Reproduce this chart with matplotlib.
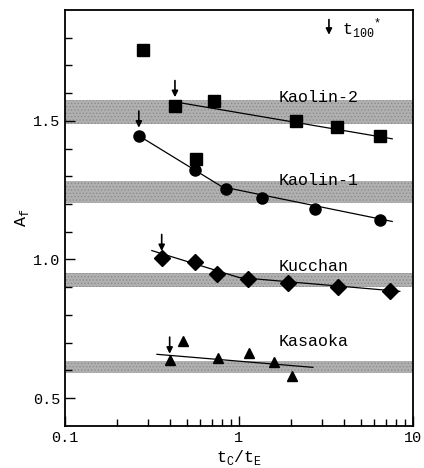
import numpy as np
import matplotlib
matplotlib.use("Agg")
import matplotlib.pyplot as plt
from matplotlib.ticker import FixedLocator, NullFormatter

plt.rcParams['font.family'] = ['Liberation Mono', 'DejaVu Sans Mono']
plt.rcParams['hatch.color'] = '#666666'
plt.rcParams['hatch.linewidth'] = 0.6

# Kaolin-2 (squares)
k2_x = [0.281, 0.429, 0.566, 0.718, 2.13, 3.66, 6.46]
k2_y = [1.755, 1.554, 1.363, 1.572, 1.500, 1.478, 1.446]
k2_fit_x = [0.43, 7.6]
k2_fit_y = [1.568, 1.435]

# Kaolin-1 (circles)
k1_x = [0.266, 0.558, 0.842, 1.36, 2.74, 6.46]
k1_y = [1.446, 1.324, 1.255, 1.223, 1.183, 1.144]
k1_fit_x = [0.266, 0.80, 7.6]
k1_fit_y = [1.446, 1.262, 1.137]

# Kucchan (diamonds)
ku_x = [0.36, 0.558, 0.748, 1.13, 1.91, 3.71, 7.38]
ku_y = [1.004, 0.990, 0.946, 0.928, 0.914, 0.900, 0.888]
ku_fit_x = [0.316, 1.0, 8.4]
ku_fit_y = [1.032, 0.935, 0.885]

# Kasaoka (triangles)
ka_x = [0.40, 0.476, 0.76, 1.14, 1.59, 2.02]
ka_y = [0.637, 0.705, 0.644, 0.662, 0.630, 0.580]
ka_fit_x = [0.338, 2.66]
ka_fit_y = [0.658, 0.611]

# shaded bands (lower, upper)
bands = [(1.49, 1.575), (1.205, 1.284), (0.90, 0.95), (0.59, 0.634)]
band_names = ["Kaolin-2", "Kaolin-1", "Kucchan", "Kasaoka"]
name_y = [1.585, 1.285, 0.975, 0.705]

# t100* positions (x, y of arrow tip)
arrow_x = [0.429, 0.266, 0.36, 0.40]
arrow_y = [1.585, 1.475, 1.030, 0.660]

fig = plt.figure(figsize=(4.24, 4.68), dpi=100)
ax = fig.add_axes([0.153, 0.09, 0.821, 0.889])
ax.set_xscale('log')
ax.set_xlim(0.1, 10)
ax.set_ylim(0.4, 1.9)

for lo, hi in bands:
    ax.axhspan(lo, hi, facecolor='#b0b0b0', edgecolor='#8c8c8c', hatch='.....', lw=0, zorder=1)

for nm, yy in zip(band_names, name_y):
    ax.text(1.7, yy, nm, fontsize=12, ha='left', va='center', zorder=3)

ax.plot(k2_fit_x, k2_fit_y, color='black', lw=0.9, zorder=2)
ax.plot(k1_fit_x, k1_fit_y, color='black', lw=0.9, zorder=2)
ax.plot(ku_fit_x, ku_fit_y, color='black', lw=0.9, zorder=2)
ax.plot(ka_fit_x, ka_fit_y, color='black', lw=0.9, zorder=2)

ax.plot(k2_x, k2_y, 's', color='black', ms=8, zorder=4)
ax.plot(k1_x, k1_y, 'o', color='black', ms=8, zorder=4)
ax.plot(ku_x, ku_y, 'D', color='black', ms=8, zorder=4)
ax.plot(ka_x, ka_y, '^', color='black', ms=7.5, zorder=4)

for xa, ya in zip(arrow_x, arrow_y):
    ax.annotate('', xy=(xa, ya), xytext=(xa, ya + 0.06),
                arrowprops=dict(arrowstyle='-|>', color='black', lw=1.2,
                                mutation_scale=9, shrinkA=0, shrinkB=0), zorder=5)

# legend arrow
ax.annotate('', xy=(3.29, 1.81), xytext=(3.29, 1.865),
            arrowprops=dict(arrowstyle='-|>', color='black', lw=1.2,
                            mutation_scale=9, shrinkA=0, shrinkB=0))
ax.text(3.9, 1.835, r't$_{\mathregular{100}}$$^{\mathregular{*}}$', fontsize=12,
        ha='left', va='center')

ax.set_yticks([0.5, 1.0, 1.5])
ax.set_yticklabels(['0.5', '1.0', '1.5'])
ax.yaxis.set_minor_locator(FixedLocator([0.6, 0.7, 0.8, 0.9, 1.1, 1.2, 1.3, 1.4, 1.6, 1.7, 1.8]))
ax.set_xticks([0.1, 1, 10])
ax.set_xticklabels(['0.1', '1', '10'])
ax.xaxis.set_minor_formatter(NullFormatter())

ax.tick_params(which='both', direction='in', labelsize=11)
ax.tick_params(which='major', length=7, width=1)
ax.tick_params(which='minor', length=5, width=1)
ax.tick_params(axis='y', which='both', right=False)
ax.tick_params(axis='x', which='both', top=False)
for s in ax.spines.values():
    s.set_linewidth(1.3)

ax.set_ylabel('A$_{\\mathregular{f}}$', fontsize=12, labelpad=1)
ax.set_xlabel('t$_{\\mathregular{C}}$/t$_{\\mathregular{E}}$', fontsize=12, labelpad=2)

fig.savefig('out.png', dpi=100)
